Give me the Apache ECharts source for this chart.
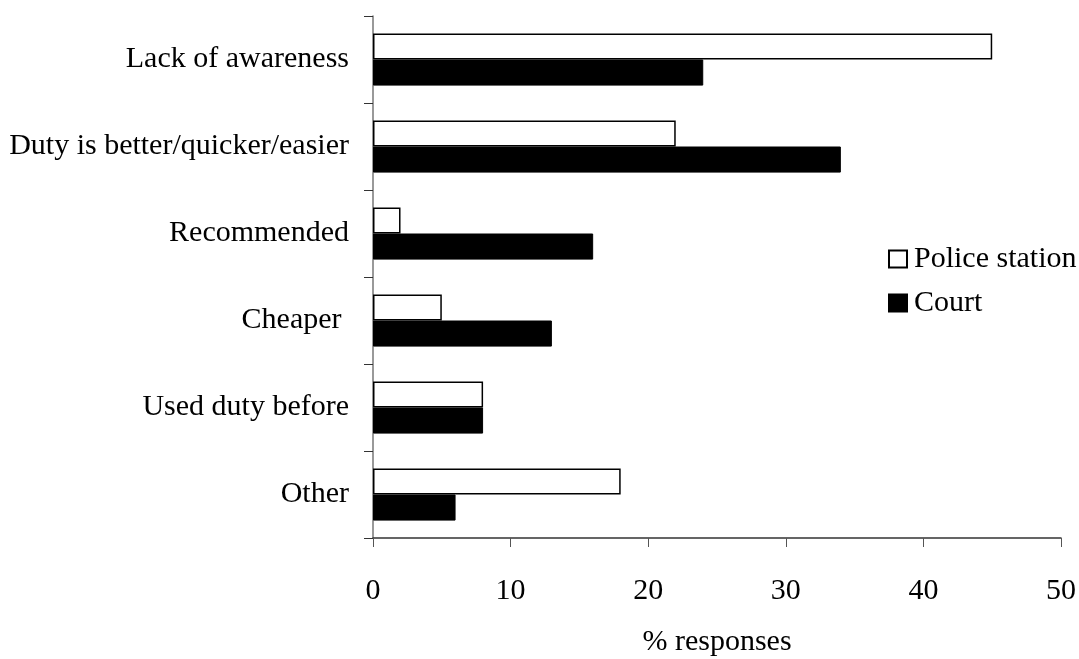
<!DOCTYPE html>
<html>
<head>
<meta charset="utf-8">
<script src="https://cdn.jsdelivr.net/npm/echarts@6/dist/echarts.min.js"></script>
<style>
  html, body { margin: 0; padding: 0; background: #fff; }
  #chart { width: 1079px; height: 659px; }
</style>
</head>
<body>
<div id="chart"></div>
<script>
// 类别和数值
const categories = ['Lack of awareness', 'Duty is better/quicker/easier', 'Recommended', 'Cheaper ', 'Used duty before', 'Other']
const policeStation = [45, 22, 2, 5, 8, 18]
const court = [24, 34, 16, 13, 8, 6]
const xTicks = [0, 50, 10]  // min, max, interval

const FONT = '"Liberation Serif", "Times New Roman", serif'
const FS = 30

let chart = echarts.init(document.getElementById('chart'))

let option = {
  backgroundColor: '#fff',
  textStyle: { fontFamily: FONT, color: '#000' },
  animation: false,
  grid: {
    left: 373,
    right: 18,
    top: 16,
    bottom: 121,
    outerBoundsMode: 'none'
  },
  legend: {
    orient: 'vertical',
    left: 883,
    top: 239,
    itemWidth: 18,
    itemHeight: 17,
    itemGap: 14,
    icon: 'rect',
    textStyle: { fontFamily: FONT, fontSize: FS, color: '#000', padding: [0, 0, 0, 2] },
    data: ['Police station', 'Court']
  },
  xAxis: {
    type: 'value',
    min: xTicks[0],
    max: xTicks[1],
    interval: xTicks[2],
    name: '% responses',
    nameLocation: 'middle',
    nameGap: 89,
    nameTextStyle: { fontFamily: FONT, fontSize: FS, color: '#000' },
    axisLine: { show: true, lineStyle: { color: '#333', width: 1.5 } },
    axisTick: { show: true, length: 9, lineStyle: { color: '#555' } },
    axisLabel: { fontFamily: FONT, fontSize: FS, color: '#000', margin: 38 },
    splitLine: { show: false }
  },
  yAxis: {
    type: 'category',
    data: categories,
    inverse: true,
    axisLine: { show: true, lineStyle: { color: '#777', width: 1.5 } },
    axisTick: { show: true, length: 9, alignWithLabel: false, lineStyle: { color: '#333' } },
    axisLabel: { fontFamily: FONT, fontSize: FS, color: '#000', margin: 24, padding: [8, 0, 0, 0] }
  },
  series: [
    {
      name: 'Police station',
      type: 'bar',
      data: policeStation,
      barGap: '0%',
      barCategoryGap: '40%',
      itemStyle: { color: '#fff', borderColor: '#000', borderWidth: 1.5 }
    },
    {
      name: 'Court',
      type: 'bar',
      data: court,
      itemStyle: { color: '#000', borderColor: '#000', borderWidth: 1 }
    }
  ]
}
chart.setOption(option)
</script>
</body>
</html>
